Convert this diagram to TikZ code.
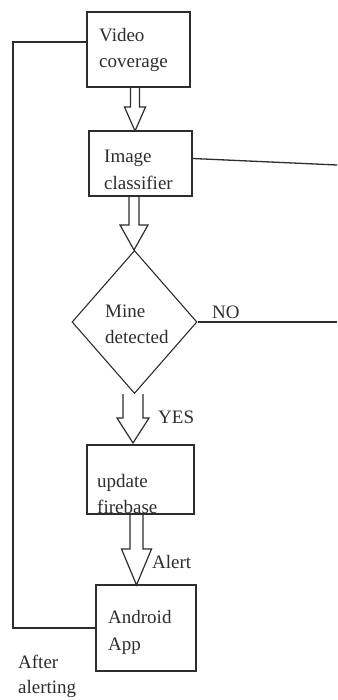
\documentclass[tikz,border=0pt]{standalone}
\usepackage{fontspec}
\setmainfont{Liberation Serif}
\usetikzlibrary{shapes.geometric,calc}
\definecolor{ink}{RGB}{45,45,45}
\tikzset{
  box/.style={draw=ink, line width=1.3pt, rectangle, inner sep=0pt},
  dia/.style={draw=ink, line width=1.1pt, diamond, inner sep=0pt},
  lbl/.style={anchor=base west, inner sep=0pt, text=ink, font=\fontsize{19}{26}\selectfont},
  wire/.style={draw=ink, line width=1.3pt},
  hollow/.style={draw=ink, line width=1.2pt, line join=miter}
}
% hollow block arrow: #1 start, #2 tip, #3 half shaft, #4 half head, #5 head length
\newcommand{\harrow}[5]{%
  \draw[hollow] let \p1=#1, \p2=#2 in
    (\x2-#3,\y1) -- (\x2-#3,\y2+#5) -- (\x2-#4,\y2+#5) -- (\x2,\y2)
    -- (\x2+#4,\y2+#5) -- (\x2+#3,\y2+#5) -- (\x2+#3,\y1);}
\begin{document}
\begin{tikzpicture}[x=1pt,y=-1pt]
\useasboundingbox (0,0) rectangle (337,700);
% boxes
\node[box, minimum width=103pt, minimum height=75pt] (vc) at (138.5,49.5) {};
\node[box, minimum width=103pt, minimum height=65pt] (ic) at (140.5,163.5) {};
\node[dia, minimum width=125pt, minimum height=143pt] (dm) at (134.5,322) {};
\node[box, minimum width=107pt, minimum height=69pt] (uf) at (140.5,479.5) {};
\node[box, minimum width=100pt, minimum height=86pt] (aa) at (146,628) {};
% texts
\node[lbl] (t1) at (99,42) {Video};
\node[lbl] (t2) at (99,68) {coverage};
\node[lbl] (t3) at (104,163) {Image};
\node[lbl] (t4) at (104,190) {classifier};
\node[lbl] (t5) at (105,317) {Mine};
\node[lbl] (t6) at (105,343) {detected};
\node[lbl] (t7) at (97,487) {update};
\node[lbl] (t8) at (97,513) {firebase};
\node[lbl] (t9) at (108,623) {Android};
\node[lbl] (t10) at (108,650) {App};
\node[lbl] (no) at (212,318) {NO};
\node[lbl] (yes) at (158,423) {YES};
\node[lbl] (al) at (152,568) {Alert};
\node[lbl] (af1) at (18,668) {After};
\node[lbl] (af2) at (18,693) {alerting};
% hollow arrows
\coordinate (a1) at (135,131);
\coordinate (a2) at (134,250);
\coordinate (a3) at (133,443);
\coordinate (a4) at (136.5,585);
\harrow{(vc.south)}{(a1)}{4.5pt}{10.5pt}{24pt}
\harrow{(ic.south)}{(a2)}{5pt}{14pt}{25pt}
\harrow{(dm.south)}{(a3)}{10pt}{16pt}{25pt}
\harrow{(uf.south)}{(a4)}{6.5pt}{15pt}{36pt}
% wires
\coordinate (e1) at (337,165);
\coordinate (e2) at (337,322);
\draw[wire] ([yshift=5pt]ic.east) -- (e1);
\draw[wire] (dm.east) -- (e2);
\draw[wire] (aa.west) -| (13,42) -- ([yshift=7.5pt]vc.west);
\end{tikzpicture}
\end{document}
